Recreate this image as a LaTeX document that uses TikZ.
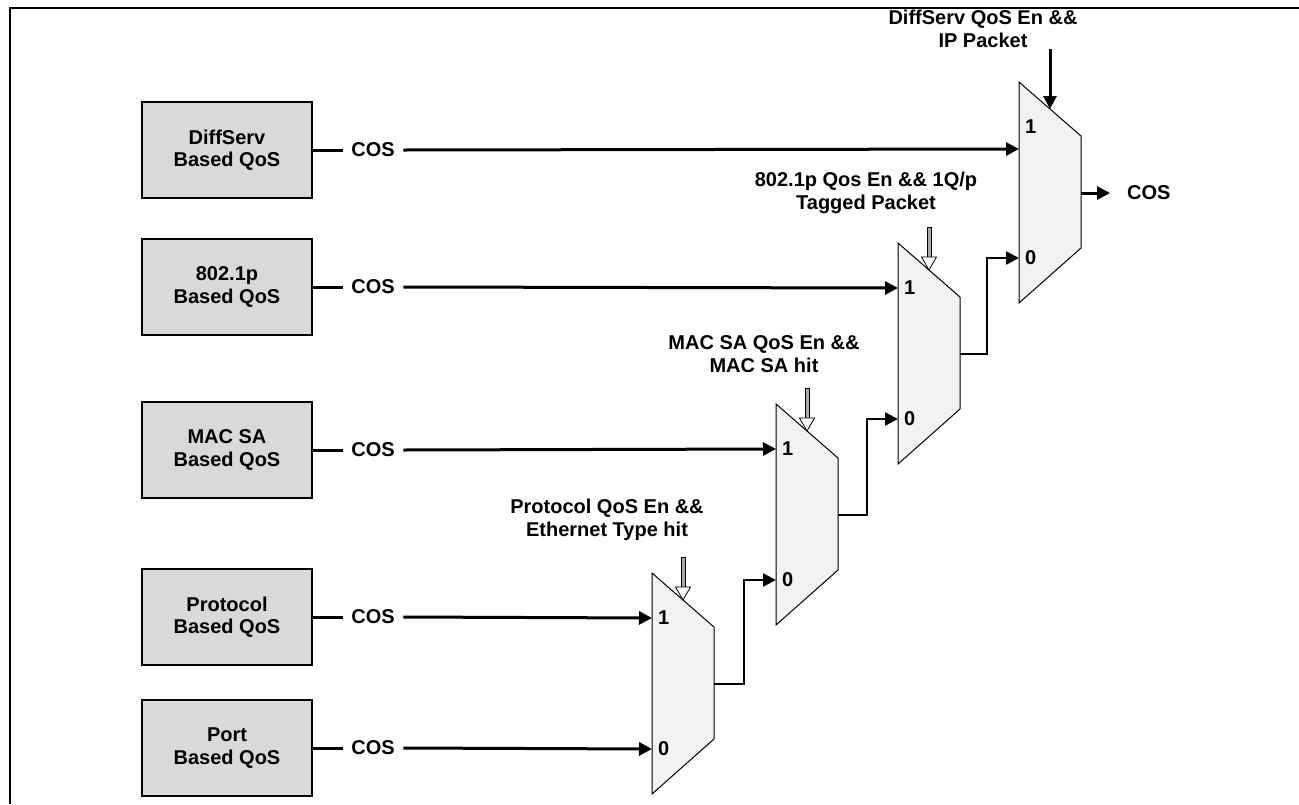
\documentclass[tikz,border=0pt]{standalone}
\usepackage{fontspec}
\setmainfont{Liberation Sans}
\usetikzlibrary{arrows.meta}
\definecolor{boxgray}{RGB}{217,217,217}
\definecolor{muxgray}{RGB}{242,242,242}
\definecolor{shaftgray}{RGB}{170,170,170}
\newcommand\qosmux[3]{% name, xleft, ytop
  \draw[muxst] (#2,#3) -- ++(62,54) -- ++(0,112) -- ++(-62,55) -- cycle;
  \coordinate (#1in1) at (#2,#3+45);
  \coordinate (#1in0) at (#2,#3+176);
  \coordinate (#1out) at (#2+62,#3+111);
  \coordinate (#1sel) at (#2+31,#3+27);
  \node[anchor=west] (#1lone) at (#2+6,#3+45) {1};
  \node[anchor=west] (#1lzero) at (#2+6,#3+176) {0};
}
\newcommand\hollowsel[1]{% draws open select arrow ending at coordinate #1
  \draw[line width=0.8pt, fill=shaftgray] ([shift={(-2,-43)}]#1) rectangle ([shift={(2,-13)}]#1);
  \draw[line width=0.8pt, fill=white, line join=miter] ([shift={(-7.5,-13)}]#1) -- ([shift={(7.5,-13)}]#1) -- (#1) -- cycle;
}
\begin{document}
\begin{tikzpicture}[x=1pt,y=-1pt,
  every node/.style={font=\fontsize{20}{22.5}\selectfont\bfseries, inner sep=0pt},
  qbox/.style={draw, line width=2.5pt, fill=boxgray, minimum width=170pt, minimum height=96pt, align=center},
  cos/.style={inner xsep=8.5pt},
  lbl/.style={align=center},
  tip/.style={-{Triangle[length=13pt,width=13pt]}},
  sig/.style={line width=3pt, tip},
  link/.style={line width=2.5pt, line join=miter},
  muxst/.style={draw, line width=1pt, fill=muxgray, line join=miter}]
\useasboundingbox (0,0) rectangle (1299,804);
% frame
\draw[line width=2.5pt] (10,804) -- (10,8) -- (1299,8);

% source boxes
\node[qbox] (b1) at (227,150) {DiffServ\\Based QoS};
\node[qbox] (b2) at (227,287) {802.1p\\Based QoS};
\node[qbox] (b3) at (227,450) {MAC SA\\Based QoS};
\node[qbox] (b4) at (227,617) {Protocol\\Based QoS};
\node[qbox] (b5) at (227,748) {Port\\Based QoS};

\node[cos] (c1) at (373,150) {COS};
\node[cos] (c2) at (373,287) {COS};
\node[cos] (c3) at (373,450) {COS};
\node[cos] (c4) at (373,617) {COS};
\node[cos] (c5) at (373,748) {COS};

% multiplexers
\qosmux{mA}{1019}{82}
\coordinate (mAin1) at (1019,149);
\qosmux{mB}{898}{243}
\qosmux{mC}{776}{404}
\qosmux{mD}{652}{573}

% inputs
\foreach \b in {1,...,5} \draw[line width=3pt] (b\b.east) -- (c\b.west);
\draw[sig] (c1.east) -- (mAin1);
\draw[sig] (c2.east) -- (mBin1);
\draw[sig] (c3.east) -- (mCin1);
\draw[sig] (c4.east) -- (mDin1);
\draw[sig] (c5.east) -- (mDin0);

% chain
\draw[link, tip] (mDout) -- ([xshift=30pt]mDout) |- (mCin0);
\draw[link, tip] (mCout) -- ([xshift=29pt]mCout) |- (mBin0);
\draw[link, tip] (mBout) -- ([xshift=27pt]mBout) |- (mAin0);

% output
\node[anchor=west] (cosout) at (1127,193) {COS};
\draw[sig, shorten >=17pt] (mAout) -- (cosout.west);

% select signals
\coordinate (mAsrc) at (1050,49);
\draw[sig] (mAsrc) -- (mAsel);
\hollowsel{mBsel}
\hollowsel{mCsel}
\hollowsel{mDsel}

% select labels
\node[lbl] (sA) at (983,29) {DiffServ QoS En \&\&\\IP Packet};
\node[lbl] (sB) at (866,193) {802.1p Qos En \&\& 1Q/p\\Tagged Packet};
\node[lbl] (sC) at (764,354) {MAC SA QoS En \&\&\\MAC SA hit};
\node[lbl] (sD) at (607,520) {Protocol QoS En \&\&\\Ethernet Type hit};
\end{tikzpicture}
\end{document}
